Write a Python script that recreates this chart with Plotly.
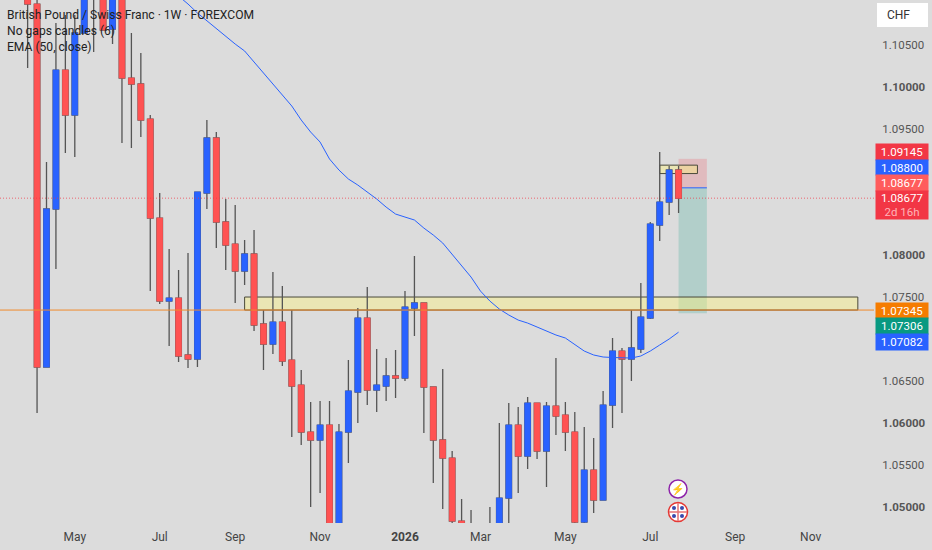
import pandas as pd
import plotly.graph_objects as go

# Weekly GBP/CHF candles
dates = pd.date_range("2025-03-31", periods=70, freq="W-MON")

open_ = [1.11393, 1.10988, 1.06667, 1.08548, 1.10202, 1.09667, 1.10643, 1.11274, 1.11750, 1.10690,
         1.11512, 1.10107, 1.10036, 1.09619, 1.08440, 1.07452, 1.07488, 1.06810, 1.06762, 1.08738,
         1.09393, 1.08393, 1.08131, 1.07810, 1.08012, 1.07179, 1.06940, 1.07202, 1.06750, 1.06452,
         1.05893, 1.05798, 1.05976, 1.04667, 1.05893, 1.06369, 1.07250, 1.06393, 1.06440, 1.06560,
         1.06536, 1.07369, 1.07429, 1.06429, 1.05798, 1.05583, 1.04833, 1.04488, 1.04369, 1.04429,
         1.04607, 1.05107, 1.05976, 1.05607, 1.06238, 1.05667, 1.06202, 1.06095, 1.05893, 1.04821,
         1.05440, 1.05083, 1.06214, 1.06857, 1.06762, 1.06881, 1.07250, 1.08357, 1.08631, 1.09012]
high = [1.11512, 1.11095, 1.09107, 1.10762, 1.10857, 1.10857, 1.11393, 1.11869, 1.11869, 1.11571,
        1.11571, 1.10643, 1.10405, 1.09667, 1.08738, 1.08071, 1.07821, 1.08024, 1.08750, 1.09607,
        1.09464, 1.08667, 1.08595, 1.08179, 1.08298, 1.07345, 1.07798, 1.07631, 1.07345, 1.06631,
        1.06250, 1.06262, 1.06262, 1.05988, 1.06750, 1.07369, 1.07619, 1.06881, 1.06774, 1.06869,
        1.07571, 1.07988, 1.07429, 1.06429, 1.06643, 1.05667, 1.05095, 1.04964, 1.04726, 1.05000,
        1.06000, 1.06238, 1.06190, 1.06310, 1.06238, 1.06250, 1.06774, 1.06250, 1.06131, 1.05952,
        1.05821, 1.06381, 1.07012, 1.06893, 1.07345, 1.07667, 1.08393, 1.09226, 1.09060, 1.09060]
low = [1.10226, 1.06119, 1.06667, 1.07833, 1.09214, 1.09167, 1.10643, 1.10417, 1.10679, 1.10512,
       1.09333, 1.09274, 1.09405, 1.07571, 1.07417, 1.06917, 1.06726, 1.06655, 1.06667, 1.08548,
       1.08083, 1.07821, 1.07429, 1.07643, 1.07095, 1.06631, 1.06821, 1.06679, 1.05833, 1.05738,
       1.05000, 1.05167, 1.04607, 1.04607, 1.05524, 1.06000, 1.06214, 1.06131, 1.06262, 1.06298,
       1.06500, 1.07036, 1.05881, 1.05286, 1.04976, 1.04774, 1.04369, 1.04250, 1.04250, 1.04369,
       1.04548, 1.04726, 1.05167, 1.05452, 1.05571, 1.05238, 1.05857, 1.05667, 1.04798, 1.04798,
       1.04929, 1.05083, 1.05940, 1.06119, 1.06500, 1.06833, 1.07238, 1.08167, 1.08476, 1.08500]
close = [1.10988, 1.06667, 1.08548, 1.10202, 1.09667, 1.10643, 1.11274, 1.11750, 1.10679, 1.11512,
         1.10107, 1.10036, 1.09607, 1.08440, 1.07452, 1.07488, 1.06798, 1.06762, 1.08750, 1.09393,
         1.08393, 1.08119, 1.07810, 1.08012, 1.07167, 1.06940, 1.07202, 1.06738, 1.06440, 1.05893,
         1.05798, 1.05976, 1.04667, 1.05893, 1.06381, 1.07250, 1.06393, 1.06452, 1.06560, 1.06536,
         1.07381, 1.07429, 1.06429, 1.05798, 1.05583, 1.04833, 1.04488, 1.04369, 1.04429, 1.04607,
         1.05107, 1.05976, 1.05607, 1.06238, 1.05667, 1.06202, 1.06083, 1.05893, 1.04821, 1.05440,
         1.05083, 1.06214, 1.06857, 1.06762, 1.06893, 1.07262, 1.08369, 1.08631, 1.09012, 1.08677]

# EMA 50, starts above the visible range at candle 16
ema = [1.11083, 1.10988, 1.10881, 1.10786, 1.10702, 1.10607, 1.10512, 1.10429, 1.10298, 1.10167,
       1.10036, 1.09905, 1.09774, 1.09607, 1.09464, 1.09345, 1.09143, 1.09012, 1.08905, 1.08833,
       1.08750, 1.08667, 1.08571, 1.08488, 1.08452, 1.08417, 1.08321, 1.08238, 1.08143, 1.08012,
       1.07881, 1.07738, 1.07571, 1.07452, 1.07357, 1.07286, 1.07226, 1.07190, 1.07143, 1.07095,
       1.07048, 1.07012, 1.06929, 1.06857, 1.06810, 1.06786, 1.06780, 1.06774, 1.06774, 1.06798,
       1.06857, 1.06929, 1.07000, 1.07082]
ema_dates = dates[16:]

x_ticks = ["2025-05-05", "2025-07-07", "2025-09-01", "2025-11-03", "2026-01-05",
           "2026-03-02", "2026-05-04", "2026-07-06", "2026-09-07", "2026-11-02"]
x_labels = ["May", "Jul", "Sep", "Nov", "<b>2026</b>", "Mar", "May", "Jul", "Sep", "Nov"]

# 1.09, 1.085 and 1.07 sit behind the price tags in the picture
y_ticks = [1.105, 1.10, 1.095, 1.08, 1.075, 1.065, 1.06, 1.055, 1.05]
y_labels = ["1.10500", "<b>1.10000</b>", "1.09500", "<b>1.08000</b>", "1.07500",
            "1.06500", "<b>1.06000</b>", "1.05500", "<b>1.05000</b>"]

# Levels
last_price = 1.08677
zone_top, zone_bottom = 1.075, 1.07345
small_zone_top, small_zone_bottom = 1.0907, 1.0897
stop, entry, target = 1.09145, 1.088, 1.07306

tag_texts = ["1.09145", "1.08800", "1.08677", "1.08677<br><span style='color:#ffb3b8'>2d 16h</span>",
             "1.07345", "1.07306", "1.07082"]
tag_colors = ["#f23645", "#2962ff", "#ff5c5c", "#f23645", "#f57c00", "#089981", "#2962ff"]
tag_tops = [144, 160, 175, 191, 303, 318, 334]
tag_heights = [16, 15, 16, 28, 15, 16, 16]

BG = "#dcdcdc"
UP = "#2962ff"
DOWN = "#ff5252"
WICK = "#555555"
W, H = 932, 550
PLOT_W, PLOT_H = 874, 523


def px(x):
    return x / PLOT_W


def py(y):
    return 1 - y / PLOT_H


fig = go.Figure()

# wicks first, the bodies go on top so they keep their own colour
fig.add_trace(go.Candlestick(
    x=dates, open=open_, high=high, low=low, close=close,
    increasing=dict(line=dict(color=WICK, width=1.3), fillcolor=UP),
    decreasing=dict(line=dict(color=WICK, width=1.3), fillcolor=DOWN),
    whiskerwidth=0, showlegend=False, hoverinfo="skip",
))
fig.add_trace(go.Candlestick(
    x=dates, open=open_, close=close,
    high=[max(a, b) for a, b in zip(open_, close)],
    low=[min(a, b) for a, b in zip(open_, close)],
    increasing=dict(line=dict(color=UP, width=0.8), fillcolor=UP),
    decreasing=dict(line=dict(color=DOWN, width=0.8), fillcolor=DOWN),
    whiskerwidth=0, showlegend=False,
))
fig.add_trace(go.Scatter(x=ema_dates, y=ema, mode="lines",
                         line=dict(color="#2962ff", width=1), showlegend=False, hoverinfo="skip"))

shapes = [
    # risk/reward box
    dict(type="rect", x0="2026-07-27", x1="2026-08-17", y0=entry, y1=stop, layer="below",
         fillcolor="rgba(242,54,69,0.2)", line_width=0),
    dict(type="rect", x0="2026-07-27", x1="2026-08-17", y0=target, y1=entry, layer="below",
         fillcolor="rgba(8,153,129,0.2)", line_width=0),
    dict(type="line", x0="2026-07-27", x1="2026-08-17", y0=entry, y1=entry, layer="below",
         line=dict(color="#2962ff", width=1)),
    # supply zones
    dict(type="rect", x0="2025-09-08", x1="2026-12-07", y0=zone_bottom, y1=zone_top, layer="below",
         fillcolor="rgba(255,245,120,0.4)", line=dict(color="#4a4a3a", width=1)),
    dict(type="rect", x0="2026-07-13", x1="2026-08-10", y0=small_zone_bottom, y1=small_zone_top, layer="below",
         fillcolor="rgba(255,245,120,0.4)", line=dict(color="#4a4a3a", width=1)),
    # price lines
    dict(type="line", xref="paper", x0=0, x1=1, y0=zone_bottom, y1=zone_bottom,
         line=dict(color="#f08a2c", width=1)),
    dict(type="line", xref="paper", x0=0, x1=1, y0=last_price, y1=last_price,
         line=dict(color="#f23645", width=1, dash="1px,2px"), opacity=0.7),
    # currency button
    dict(type="rect", xref="paper", yref="paper", x0=px(877), x1=px(928), y0=py(27), y1=py(3),
         fillcolor="white", line_width=0),
    # icons
    dict(type="circle", xref="paper", yref="paper", x0=px(669), x1=px(687), y0=py(498), y1=py(480),
         fillcolor="white", line=dict(color="#8e24aa", width=1.5)),
    dict(type="circle", xref="paper", yref="paper", x0=px(668.5), x1=px(687.5), y0=py(521.5), y1=py(502.5),
         fillcolor="white", line=dict(color="#e53935", width=1.5)),
    dict(type="line", xref="paper", yref="paper", x0=px(669), x1=px(687), y0=py(512), y1=py(512),
         line=dict(color="#e57373", width=1.5)),
    dict(type="line", xref="paper", yref="paper", x0=px(678), x1=px(678), y0=py(521), y1=py(503),
         line=dict(color="#e57373", width=1.5)),
]
for cx, cy in [(674, 508), (682, 508), (674, 516), (682, 516)]:
    shapes.append(dict(type="circle", xref="paper", yref="paper", x0=px(cx - 2), x1=px(cx + 2),
                       y0=py(cy + 2), y1=py(cy - 2), fillcolor="#3949ab", line_width=0))

annotations = []
legend_lines = ["British Pound / Swiss Franc · 1W · FOREXCOM", "No gaps candles (6)", "EMA (50, close)"]
for text, y in zip(legend_lines, [15, 31, 47]):
    annotations.append(dict(text=text, xref="paper", yref="paper", x=px(5), y=py(y), xanchor="left",
                            yanchor="middle", showarrow=False, font=dict(size=12.1, color="#222222")))

for text, color, top, h in zip(tag_texts, tag_colors, tag_tops, tag_heights):
    annotations.append(dict(text=text, xref="paper", yref="paper", x=px(902), y=py(top + h / 2),
                            xanchor="center", yanchor="middle", showarrow=False, width=50, height=h - 2,
                            bgcolor=color, align="center", font=dict(size=11.5, color="white")))

annotations.append(dict(text="CHF", xref="paper", yref="paper", x=px(885.5), y=py(15), xanchor="left",
                        yanchor="middle", showarrow=False, font=dict(size=12, color="#333333")))
annotations.append(dict(text="⚡", xref="paper", yref="paper", x=px(678), y=py(489), xanchor="center",
                        yanchor="middle", showarrow=False, font=dict(size=11, color="#8e24aa")))

fig.update_layout(
    width=W, height=H,
    margin=dict(l=0, r=W - PLOT_W, t=0, b=H - PLOT_H, pad=0),
    paper_bgcolor=BG, plot_bgcolor=BG,
    font=dict(family="Roboto, sans-serif"),
    boxgap=0.15,
    showlegend=False,
    shapes=shapes,
    annotations=annotations,
    xaxis=dict(range=["2025-03-10 12:00", "2026-12-19"], rangeslider=dict(visible=False),
               tickmode="array", tickvals=x_ticks, ticktext=x_labels, showgrid=False, zeroline=False,
               showline=False, ticks="outside", ticklen=3, tickcolor=BG,
               tickfont=dict(size=12, color="#444444")),
    yaxis=dict(range=[1.0481, 1.11036], side="right", tickmode="array", tickvals=y_ticks, ticktext=y_labels,
               showgrid=False, zeroline=False, showline=False, ticks="outside", ticklen=5, tickcolor=BG,
               tickfont=dict(size=11.5, color="#555555")),
)

# the page has a default body margin, drop it so the chart fills the window
fig.write_html("out.html", config=dict(displayModeBar=False),
               post_script="document.body.style.margin='0';document.body.style.background='#dcdcdc';")
